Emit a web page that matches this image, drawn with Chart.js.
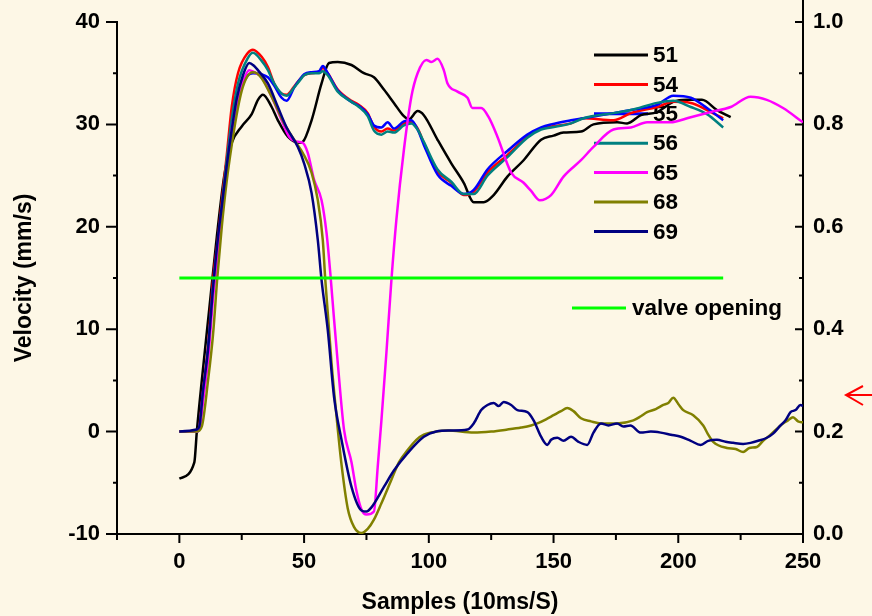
<!DOCTYPE html>
<html>
<head>
<meta charset="utf-8">
<script src="https://cdn.jsdelivr.net/npm/chart.js@4.4.1/dist/chart.umd.min.js"></script>
<style>
  html, body { margin: 0; padding: 0; background: #FDF7E6; }
  canvas { display: block; }
</style>
</head>
<body>
<canvas id="chart" width="872" height="616"></canvas>
<script>
// samples (x) and velocity in mm/s (y) for each run
const x51 = [0, 6, 7, 9, 12, 15, 18, 21, 25, 29, 31.5, 33.5, 37, 39.5, 43.5, 48, 49.5, 53, 57, 60, 63.5, 69, 74, 78, 82, 86, 90, 92, 95.5, 98, 103.5, 109, 114, 118, 122, 126, 131.5, 138, 145, 150, 154, 161, 166, 175.5, 179.5, 185, 191.5, 198, 203.5, 209.5, 215.5, 221];
const v51 = [-4.6, -3, 0, 5, 12, 19, 25, 28.2, 29.8, 31, 32.4, 32.9, 31.7, 30.4, 28.8, 28.2, 28.3, 30.4, 34, 36, 36.1, 35.8, 35, 34.6, 33.4, 32.1, 30.8, 30.5, 31.3, 30.9, 28.5, 26.2, 24.3, 22.4, 22.4, 23.1, 24.9, 26.5, 28.5, 28.9, 29.2, 29.3, 30, 30.2, 30.1, 30.9, 31.2, 32.2, 32.4, 32.4, 31.4, 30.7];

// 54, 55 and 56 share the same sample positions
const xBundle = [0, 7, 8, 9.5, 11.5, 13.5, 15.5, 17, 19, 21, 23.5, 27.5, 29.5, 33, 35.5, 38, 41, 43, 46, 48, 50, 53, 56, 57.5, 59.5, 63.5, 69, 72, 75.5, 78, 81, 83.5, 86, 90, 93, 95.5, 98, 103.5, 109, 114, 118, 123.5, 131.5, 139.5, 145, 149, 157, 162, 174, 181, 191.5, 198, 205, 211.5, 218];
const v54 = [0, 0, 0.5, 4, 8.3, 14.8, 19, 22.5, 27, 31.7, 35, 37, 37.3, 36.6, 35.6, 34, 33, 32.9, 33.7, 34.3, 34.8, 35, 35.1, 35.5, 35, 33.4, 32.3, 31.9, 31.1, 29.8, 29.3, 29.6, 29.4, 30.1, 30.2, 29.6, 28.2, 25.4, 24.3, 23.1, 23.4, 25.3, 27, 28.8, 29.6, 29.8, 30.1, 30.6, 30.4, 31.1, 31.7, 32.2, 32.1, 31.4, 30.6];
const v55 = [0, 0, 0.3, 3.8, 8, 14, 18.5, 21.5, 25.5, 29.5, 32.5, 34.8, 35, 34.9, 34.6, 33.8, 32.6, 32.3, 33.6, 34.3, 34.9, 35.1, 35.2, 35.7, 35, 33.3, 32.2, 31.8, 31, 29.9, 29.7, 30.2, 29.6, 30.3, 30.4, 29.5, 28, 25.1, 24, 23.2, 23.6, 25.6, 27.4, 29, 29.7, 30, 30.4, 30.6, 31.1, 31.4, 31.9, 32.8, 32.6, 31.6, 30.4];
const v56 = [0, 0, 0.3, 3.5, 7.8, 14, 18.5, 22, 26.5, 30.5, 34, 36.5, 37, 36.2, 35.3, 34, 33, 32.8, 33.6, 34.2, 34.8, 35, 35, 35.2, 34.8, 33.2, 32.2, 31.7, 30.8, 29.4, 29, 29.3, 29.2, 29.9, 30.1, 29.5, 28.3, 25.6, 24.4, 23.2, 23.2, 25, 26.8, 28.7, 29.5, 29.7, 30.1, 30.6, 31.1, 31.4, 32.1, 32.3, 31.7, 31, 29.7];

const x65 = [0, 7, 8, 9.5, 11.5, 13.5, 15.5, 17, 19, 21, 23.5, 26, 28, 30, 33, 37, 41, 44, 47.5, 49.5, 51.5, 54, 57, 59, 60.5, 62, 63.5, 66, 69, 71, 73, 75, 78, 79.5, 81, 83, 85, 87, 90, 93, 95.5, 99, 101, 103.5, 106, 107.5, 111.5, 115.5, 117.5, 121, 124, 127.5, 133, 138, 141, 144.5, 149, 154, 161, 166, 174, 181, 187.5, 196.8, 205, 213, 221, 229, 235.5, 242, 250];
const v65 = [0, 0, 0.3, 3, 7, 13, 17.5, 21, 25.5, 29.5, 32.5, 34.5, 35.3, 35.1, 34.6, 32.7, 30.4, 28.8, 28.3, 28.2, 27.2, 24.6, 22.6, 19.4, 15.5, 11, 6.7, 0.2, -3, -5.8, -7.6, -8.1, -7.8, -3.5, 1.1, 7.7, 14.8, 20.7, 27.5, 32.7, 35, 36.3, 36.1, 36.4, 35.3, 34, 33.2, 32.6, 31.6, 31.6, 30.7, 28.8, 25.3, 24.3, 23.5, 22.6, 23.1, 24.9, 26.5, 27.8, 29.5, 29.7, 30.2, 30.2, 30.7, 31.2, 31.7, 32.7, 32.4, 31.6, 30.2];

const x68 = [0, 7, 9, 11.5, 13.5, 15.2, 17, 19, 21, 23, 25, 27, 29.5, 31, 33, 37, 42, 46, 49.5, 53, 55.5, 57.5, 58.5, 61, 63, 65, 67.5, 70, 73, 75.5, 78, 81, 85, 88, 91.5, 95, 98, 103, 107.5, 118, 125, 131.5, 137, 141, 143.5, 147, 150, 153, 155.5, 158, 161, 165, 169, 175.5, 182, 185, 187.5, 191, 194, 196, 198, 200, 202, 206, 210, 212, 214, 219.5, 223, 226, 228.5, 231.5, 234, 237, 242, 244, 246, 248, 250];
const v68 = [0, 0, 0.5, 5, 9.5, 15, 20, 24.5, 28, 31, 33.3, 34.6, 35.1, 35, 34.5, 32.7, 30.1, 28.5, 27.2, 25.3, 22.6, 18.7, 14.8, 6.7, 1.5, -3.2, -7.5, -9.3, -9.9, -9.5, -8.6, -7, -4.7, -3, -1.8, -0.8, -0.3, 0, 0.1, -0.1, 0, 0.2, 0.4, 0.6, 0.8, 1.2, 1.6, 2, 2.3, 2, 1.3, 1, 0.8, 0.8, 1.1, 1.5, 1.9, 2.2, 2.6, 2.8, 3.3, 2.7, 2.1, 1.6, 0.6, -0.3, -1, -1.6, -1.7, -2, -1.6, -1.5, -0.9, -0.3, 0.8, 1.1, 1.4, 1, 0.9];

const x69 = [0, 7, 8, 9.5, 11.5, 13.5, 15.5, 17, 19, 21, 23, 25.5, 28, 30, 31.5, 35.5, 39.5, 43, 47.5, 50, 53, 55.5, 57, 59.5, 62, 65, 69, 73, 75, 77, 82, 86, 91.5, 98, 103, 109, 115.5, 118, 121, 123.5, 126, 128, 130, 133, 135.5, 139.5, 142, 145, 147.5, 149, 151.5, 154, 157, 160, 163.5, 166, 169, 172, 175.5, 178, 180.8, 185, 189, 193, 197, 201, 205, 209, 212, 215.5, 219, 222, 226, 229, 232, 235.5, 238, 241, 243, 245, 247, 249, 250];
const v69 = [0, 0.2, 0.5, 4, 8, 14, 19, 22, 26, 29.5, 32.5, 34.8, 36, 35.7, 35.3, 34, 31.7, 29.7, 27.8, 26.2, 23.3, 18.7, 14.8, 9.9, 3.4, -0.8, -5.4, -7.7, -7.8, -7.4, -5.4, -3.8, -2.1, -0.5, 0, 0.1, 0.2, 0.8, 2.1, 2.6, 2.8, 2.5, 2.9, 2.6, 2.1, 1.9, 1.1, -0.5, -1.3, -0.8, -0.6, -0.9, -0.5, -1, -1.3, -0.1, 0.8, 0.6, 0.8, 0.5, 0.6, -0.1, 0, -0.1, -0.3, -0.5, -0.9, -1.3, -0.9, -0.8, -1, -1.1, -1.2, -1.1, -0.9, -0.6, -0.2, 0.6, 1.1, 1.9, 2.1, 2.6, 2.5];

const valveX = [0, 218];
const valveV = [15, 15];

const seriesNames = ['51', '54', '55', '56', '65', '68', '69'];
const seriesX = [x51, xBundle, xBundle, xBundle, x65, x68, x69];
const seriesV = [v51, v54, v55, v56, v65, v68, v69];
const seriesColors = ['#000000', '#FF0000', '#0000FF', '#008080', '#FF00FF', '#808000', '#000080'];

const FONT = '"Liberation Sans", Arial, sans-serif';
const pts = (xs, ys) => xs.map((x, i) => ({ x: x, y: ys[i] }));

const datasets = seriesNames.map((name, i) => ({
    label: name,
    data: pts(seriesX[i], seriesV[i]),
    borderColor: seriesColors[i],
    borderWidth: 2.5,
    pointRadius: 0,
    fill: false,
    cubicInterpolationMode: 'monotone',
    order: 10 - i
}));
datasets.push({
    label: 'valve opening',
    data: pts(valveX, valveV),
    borderColor: '#00FF00',
    borderWidth: 3,
    pointRadius: 0,
    fill: false,
    order: 0
});

// legend sits inside the plot, under the curves
const insideLegend = {
    id: 'insideLegend',
    beforeDatasetsDraw(chart) {
        const ctx = chart.ctx;
        ctx.save();
        ctx.font = 'bold 22.5px ' + FONT;
        ctx.textBaseline = 'middle';
        ctx.textAlign = 'left';
        seriesNames.forEach((name, i) => {
            const y = 55 + i * 29.4;
            ctx.strokeStyle = seriesColors[i];
            ctx.lineWidth = 3;
            ctx.beginPath();
            ctx.moveTo(594, y);
            ctx.lineTo(648, y);
            ctx.stroke();
            ctx.fillStyle = '#000';
            ctx.fillText(name, 653, y + 1);
        });
        ctx.strokeStyle = '#00FF00';
        ctx.beginPath();
        ctx.moveTo(572, 308);
        ctx.lineTo(626, 308);
        ctx.stroke();
        ctx.fillStyle = '#000';
        ctx.fillText('valve opening', 632, 309);
        ctx.restore();
    }
};

// tick marks: long on labelled values, short in between; right axis ticks point inward
const tickMarks = {
    id: 'tickMarks',
    afterDraw(chart) {
        const { ctx, chartArea: a, scales } = chart;
        ctx.save();
        ctx.strokeStyle = '#000';
        ctx.lineWidth = 2;
        ctx.beginPath();
        scales.x.ticks.forEach(t => {
            const px = scales.x.getPixelForValue(t.value);
            const len = t.value % 50 === 0 ? 9 : 6;
            ctx.moveTo(px, a.bottom);
            ctx.lineTo(px, a.bottom + len);
        });
        scales.y.ticks.forEach(t => {
            const py = scales.y.getPixelForValue(t.value);
            const len = t.value % 10 === 0 ? 11 : 4;
            ctx.moveTo(a.left, py);
            ctx.lineTo(a.left - len, py);
        });
        scales.y1.ticks.forEach(t => {
            const py = scales.y1.getPixelForValue(t.value);
            const len = Math.round(t.value * 10) % 2 === 0 ? 8 : 4;
            ctx.moveTo(a.right, py);
            ctx.lineTo(a.right - len, py);
        });
        ctx.moveTo(a.right, 0);
        ctx.lineTo(a.right, a.top);
        ctx.stroke();

        // red arrow on the right margin
        ctx.strokeStyle = '#FF0000';
        ctx.lineWidth = 2;
        ctx.beginPath();
        ctx.moveTo(872, 395);
        ctx.lineTo(846, 395);
        ctx.moveTo(863, 386);
        ctx.lineTo(846, 395);
        ctx.lineTo(863, 405);
        ctx.stroke();
        ctx.restore();
    }
};

const tickFont = { family: FONT, size: 22, weight: 'bold' };
const titleFont = { family: FONT, size: 23, weight: 'bold' };

const fitSide = width => s => {
    s.width = width;
    s.paddingTop = 0;
    s.paddingBottom = 0;
};

new Chart(document.getElementById('chart'), {
    type: 'line',
    data: { datasets: datasets },
    options: {
        responsive: false,
        animation: false,
        events: [],
        layout: { padding: { top: 22, left: 0, right: 0, bottom: 0 } },
        plugins: {
            legend: { display: false },
            tooltip: { enabled: false }
        },
        scales: {
            x: {
                type: 'linear',
                min: -25,
                max: 250,
                afterFit: s => { s.height = 82; s.paddingLeft = 0; s.paddingRight = 0; },
                grid: { display: false, drawTicks: false },
                border: { display: true, color: '#000', width: 2 },
                ticks: {
                    stepSize: 25,
                    autoSkip: false,
                    maxRotation: 0,
                    padding: 15,
                    color: '#000',
                    font: tickFont,
                    callback: v => (v % 50 === 0 ? String(v) : '')
                },
                title: {
                    display: true,
                    text: 'Samples (10ms/S)',
                    color: '#000',
                    font: titleFont,
                    padding: { top: 0, bottom: 0 }
                }
            },
            y: {
                type: 'linear',
                position: 'left',
                min: -10,
                max: 40,
                afterFit: fitSide(117),
                grid: { display: false, drawTicks: false },
                border: { display: true, color: '#000', width: 2 },
                ticks: {
                    stepSize: 5,
                    autoSkip: false,
                    padding: 17,
                    color: '#000',
                    font: tickFont,
                    callback: v => (v % 10 === 0 ? String(v) : '')
                },
                title: {
                    display: true,
                    text: 'Velocity (mm/s)',
                    color: '#000',
                    font: titleFont,
                    padding: { top: 11, bottom: 0 }
                }
            },
            y1: {
                type: 'linear',
                position: 'right',
                min: 0,
                max: 1,
                afterFit: fitSide(69),
                grid: { display: false, drawTicks: false },
                border: { display: true, color: '#000', width: 2 },
                ticks: {
                    stepSize: 0.1,
                    autoSkip: false,
                    padding: 10,
                    color: '#000',
                    font: tickFont,
                    callback: v => (Math.round(v * 10) % 2 === 0 ? v.toFixed(1) : '')
                }
            }
        }
    },
    plugins: [insideLegend, tickMarks]
});
</script>
</body>
</html>
